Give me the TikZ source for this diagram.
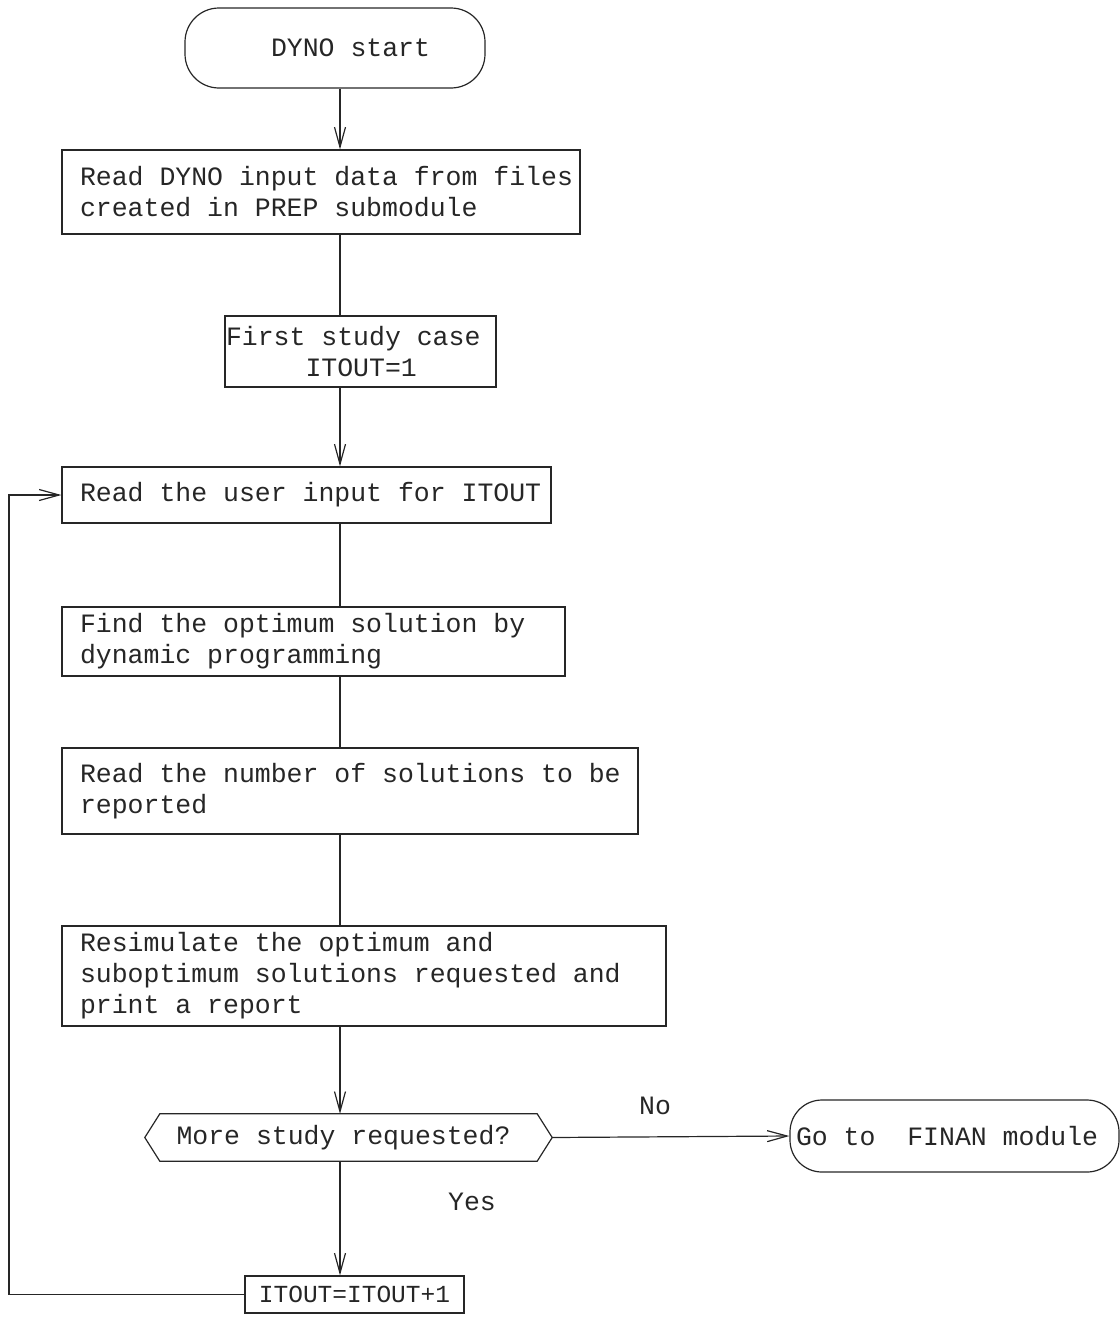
\documentclass[tikz,border=0pt]{standalone}
\usepackage{fontspec}
\setmonofont{Liberation Mono}
\usetikzlibrary{arrows.meta}
\newcommand{\fixsp}{\spaceskip=0pt\xspaceskip=0pt\relax}
\newcommand{\myind}{\hspace*{18pt}}
\begin{document}
\begin{tikzpicture}[x=1pt,y=-1pt,
  every node/.style={font=\ttfamily\fontsize{26.5}{31}\selectfont, text=black!85},
  stepbox/.style={draw=black!85, line width=1.2pt, inner xsep=0pt, inner ysep=0pt, align=left},
  term/.style={draw=black!85, line width=1.2pt, rounded corners=34pt, inner xsep=0pt, inner ysep=0pt, align=left},
  conn/.style={draw=black!85, line width=1.2pt},
  arr/.style={conn, -{Straight Barb[length=20pt,width=11pt,line width=1.2pt]}}
]
\useasboundingbox (0,0) rectangle (1119,1317);
\coordinate (spine) at (340,0);
\coordinate (loopx) at (9,0);

\node[term, minimum width=300pt, minimum height=80pt, text width=300pt] (start) at (335,48) {\fixsp\hspace*{86pt}DYNO start};

\node[stepbox, minimum width=518pt, minimum height=84pt, text width=518pt] (b1) at (321,192)
  {\fixsp\myind Read DYNO input data from files\\\myind created in PREP submodule};

\node[stepbox, minimum width=271pt, minimum height=71pt, text width=271pt] (b2) at (360.5,351.5)
  {\fixsp\hspace*{1pt}First study case\\\hspace*{1pt}\phantom{First}ITOUT=1};

\node[stepbox, minimum width=489pt, minimum height=56pt, text width=489pt] (b3) at (306.5,495)
  {\fixsp\myind Read the user input for ITOUT};

\node[stepbox, minimum width=503pt, minimum height=69pt, text width=503pt] (b4) at (313.5,641.5)
  {\fixsp\myind Find the optimum solution by\\\myind dynamic programming};

\node[stepbox, minimum width=576pt, minimum height=86pt, text width=576pt] (b5) at (350,791)
  {\fixsp\myind Read the number of solutions to be\\\myind reported};

\node[stepbox, minimum width=604pt, minimum height=100pt, text width=604pt] (b6) at (364,976)
  {\fixsp\myind Resimulate the optimum and\\\myind suboptimum solutions requested and\\\myind print a report};

% decision hexagon
\node[inner sep=0pt, minimum width=377pt, minimum height=47pt] (dec) at (348.5,1137.5) {More study requested?\hspace*{10pt}};
\coordinate (decE) at ([xshift=15pt]dec.east);
\coordinate (decW) at ([xshift=-15pt]dec.west);
\draw[conn] (dec.north west) -- (dec.north east) -- (decE) -- (dec.south east) -- (dec.south west) -- (decW) -- cycle;

\node[term, rounded corners=32pt, minimum width=329pt, minimum height=72pt, text width=329pt] (finan) at (954.5,1136)
  {\fixsp\hspace*{6pt}Go to\ \ FINAN module};

\node[stepbox, align=center, minimum width=219pt, minimum height=37pt, font=\ttfamily\fontsize{24.5}{29}\selectfont] (b7) at (354.5,1294.5) {ITOUT=ITOUT+1};

\node (no) at (655,1106) {No};
\node (yes) at (472,1202) {Yes};

% connectors
\draw[arr] (start.south -| spine) -- (b1.north -| spine);
\draw[conn] (b1.south -| spine) -- (b2.north -| spine);
\draw[arr] (b2.south -| spine) -- (b3.north -| spine);
\draw[conn] (b3.south -| spine) -- (b4.north -| spine);
\draw[conn] (b4.south -| spine) -- (b5.north -| spine);
\draw[conn] (b5.south -| spine) -- (b6.north -| spine);
\draw[arr] (b6.south -| spine) -- (dec.north -| spine);
\draw[arr] (dec.south -| spine) -- (b7.north -| spine);
\draw[arr] (decE) -- (finan.west);
\draw[arr] (b7.west) -- (b7.west -| loopx) -- (b3.west -| loopx) -- (b3.west);
\end{tikzpicture}
\end{document}
